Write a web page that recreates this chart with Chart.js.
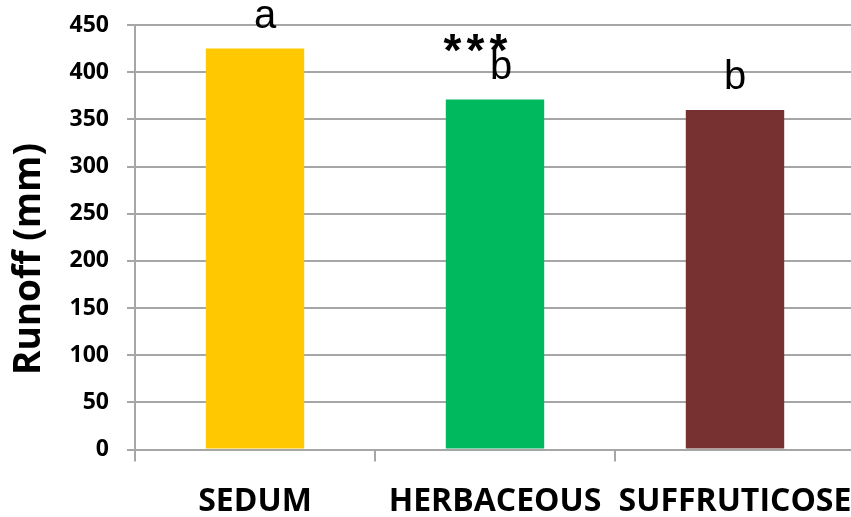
<!DOCTYPE html>
<html>
<head>
<meta charset="utf-8">
<script src="https://cdn.jsdelivr.net/npm/chart.js@4/dist/chart.umd.min.js"></script>
<style>
  html, body { margin: 0; padding: 0; overflow: hidden; background: #ffffff; width: 851px; height: 517px; }
  #wrap { position: absolute; left: 0; top: 0; width: 860px; height: 517px; }
</style>
</head>
<body>
<div id="wrap"><canvas id="runoffChart" width="860" height="517"></canvas></div>
<script>
// Runoff by green-roof vegetation type
const categories = ['SEDUM', 'HERBACEOUS', 'SUFFRUTICOSE'];
const runoff = [425, 371, 360];
const groupLetters = ['a', 'b', 'b'];
const significance = ['', '***', ''];
const yMin = 0;
const yMax = 450;
const yStep = 50;
const axisTitle = 'Runoff (mm)';

const barColors = ['#FFC800', '#00B85E', '#773130'];
const gridColor = '#a6a6a6';

// horizontal nudges for the letter labels (px)
const letterShift = [10, 6, 0];

const annotations = {
  id: 'annotations',
  afterDatasetsDraw(chart) {
    const ctx = chart.ctx;
    const meta = chart.getDatasetMeta(0);
    ctx.save();
    ctx.fillStyle = '#000000';
    meta.data.forEach((bar, i) => {
      // group letter above each bar
      ctx.font = '40px "Liberation Sans", Arial, sans-serif';
      ctx.textAlign = 'center';
      ctx.textBaseline = 'alphabetic';
      ctx.fillText(groupLetters[i], bar.x + letterShift[i], bar.y - 21);
      // significance stars
      const s = significance[i];
      if (s) {
        ctx.font = 'bold 46px "Liberation Sans", Arial, sans-serif';
        ctx.textBaseline = 'top';
        const gap = 23;
        const x0 = bar.x - 19.5 - gap * (s.length - 1) / 2;
        for (let k = 0; k < s.length; k++) {
          ctx.fillText(s[k], x0 + k * gap, bar.y - 69);
        }
      }
    });
    // y axis title
    ctx.translate(29, 259);
    ctx.rotate(-Math.PI / 2);
    ctx.font = 'bold 37px "Open Sans", sans-serif';
    ctx.textAlign = 'center';
    ctx.textBaseline = 'middle';
    ctx.fillText(axisTitle, 0, 0);
    ctx.restore();
  }
};

function noScalePadding(scale) {
  scale.paddingLeft = 0;
  scale.paddingRight = 0;
  scale.paddingTop = 0;
  scale.paddingBottom = 0;
}

new Chart(document.getElementById('runoffChart'), {
  type: 'bar',
  data: {
    labels: categories,
    datasets: [{
      data: runoff,
      backgroundColor: barColors,
      borderWidth: 0,
      barPercentage: 0.41,
      categoryPercentage: 1
    }]
  },
  options: {
    responsive: false,
    animation: false,
    devicePixelRatio: 1,
    layout: { padding: { top: 25, right: 5, left: 0, bottom: 0 } },
    plugins: {
      legend: { display: false },
      tooltip: { enabled: false }
    },
    scales: {
      x: {
        offset: true,
        afterFit(scale) { scale.height = 67.5; noScalePadding(scale); },
        grid: {
          display: true,
          offset: true,
          drawOnChartArea: false,
          drawTicks: true,
          tickLength: 12,
          color: gridColor,
          lineWidth: 2
        },
        border: { display: true, color: gridColor, width: 2 },
        ticks: {
          color: '#000000',
          padding: 21,
          maxRotation: 0,
          font: { family: '"Open Sans", sans-serif', weight: 'bold', size: 32 }
        }
      },
      y: {
        min: yMin,
        max: yMax,
        afterFit(scale) { scale.width = 135; noScalePadding(scale); },
        grid: {
          color: gridColor,
          lineWidth: 2,
          drawTicks: true,
          tickLength: 8
        },
        border: { display: true, color: gridColor, width: 2 },
        ticks: {
          stepSize: yStep,
          color: '#000000',
          padding: 18,
          font: { family: '"Open Sans", sans-serif', weight: 'bold', size: 23 }
        },
        title: { display: false }
      }
    }
  },
  plugins: [annotations]
});
</script>
</body>
</html>
